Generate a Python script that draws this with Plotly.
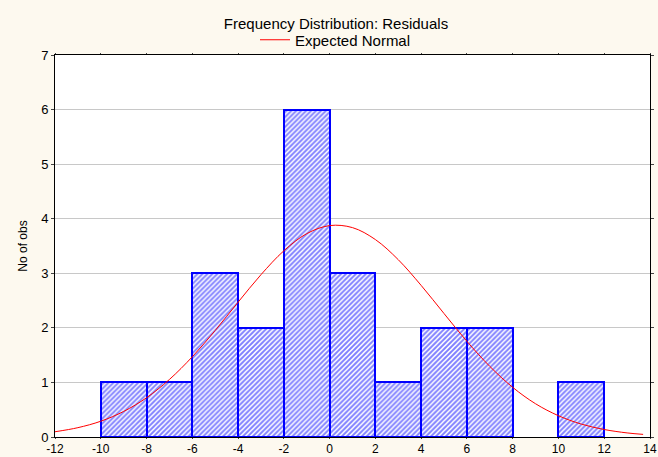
import plotly.graph_objects as go

# Histogram bins (left edges, width 2) and counts
bin_left = [-10, -8, -6, -4, -2, 0, 2, 4, 6, 8, 10]
counts = [1, 1, 3, 2, 6, 3, 1, 2, 2, 0, 1]
bin_width = 2

# Expected normal curve
curve_x = [-12, -11, -10, -9, -8, -7, -6, -5, -4, -3, -2, -1, 0, 1, 2, 3, 4, 5, 6, 7, 8, 9, 10, 11, 12, 13, 13.7]
curve_y = [0.096, 0.171, 0.289, 0.468, 0.719, 1.054, 1.470, 1.952, 2.470, 2.974, 3.412, 3.726, 3.874,
           3.837, 3.618, 3.249, 2.778, 2.262, 1.753, 1.294, 0.910, 0.609, 0.390, 0.236, 0.137, 0.075, 0.048]

x_ticks = [-12, -10, -8, -6, -4, -2, 0, 2, 4, 6, 8, 10, 12, 14]
x_tick_labels = ["-12", "-10", "-8", "-6", "-4", "-2", "0", "2", "4", "6", "8", "10", "12", "14"]

bx = [l + bin_width / 2 for l, c in zip(bin_left, counts) if c > 0]
by = [c for c in counts if c > 0]

fig = go.Figure()
fig.add_trace(go.Bar(
    x=bx, y=by, width=bin_width, showlegend=False,
    marker=dict(color="white", line=dict(color="#0000FF", width=2),
                pattern=dict(shape="/", fgcolor="#0000FF", bgcolor="white", size=3.5, solidity=0.55)),
))
fig.add_trace(go.Scatter(
    x=curve_x, y=curve_y, mode="lines", name="Expected Normal",
    line=dict(color="#FF0000", width=1, shape="spline"),
))

fig.update_layout(
    width=658, height=457,
    paper_bgcolor="#FDF9EF", plot_bgcolor="white",
    margin=dict(l=55, r=8, t=55, b=20),
    font=dict(family="Liberation Sans, Arial, sans-serif", size=13, color="black"),
    title=dict(text="Frequency Distribution: Residuals", x=336 / 658, xref="container", xanchor="center",
               y=1 - 24 / 457, yref="container", yanchor="middle", font=dict(size=15)),
    legend=dict(orientation="h", x=(255 - 55) / 595, xanchor="left", y=(437 - 40) / 382, yanchor="middle",
                bgcolor="rgba(0,0,0,0)", font=dict(size=15), itemwidth=30),
    bargap=0,
)
fig.update_xaxes(range=[-12, 14], tickvals=x_ticks, ticktext=x_tick_labels, ticks="outside", ticklen=1,
                 showgrid=False, automargin=False,
                 showline=True, linecolor="black", linewidth=1, mirror="ticks", zeroline=False,
                 tickfont=dict(size=12))
fig.update_yaxes(range=[0, 7], dtick=1, ticks="outside", ticklen=3, showgrid=True, gridcolor="#C8C8C8",
                 showline=True, linecolor="black", linewidth=1, mirror="ticks", zeroline=False,
                 automargin=False,
                 title=dict(text="No of obs", font=dict(size=12), standoff=10), tickfont=dict(size=13))

fig.write_html(
    "out.html",
    config={"displayModeBar": False},
    post_script="document.body.style.margin='0';document.body.style.background='#FDF9EF';"
                "document.body.style.overflow='hidden';",
)
